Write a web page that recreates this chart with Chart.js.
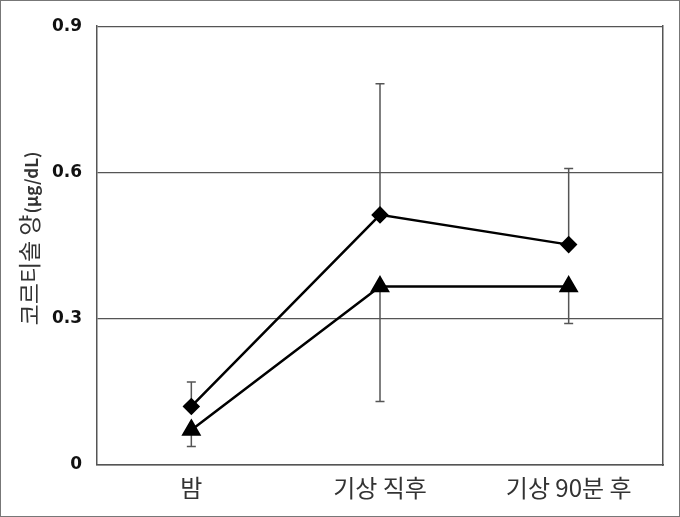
<!DOCTYPE html>
<html>
<head>
<meta charset="utf-8">
<script src="https://cdn.jsdelivr.net/npm/chart.js@4.4.1/dist/chart.umd.min.js"></script>
<style>
  html, body { margin: 0; padding: 0; background: #fff; }
  #wrap { position: relative; width: 678px; height: 515px; border: 1px solid #777; }
</style>
</head>
<body>
<div id="wrap"><canvas id="chart" width="678" height="515"></canvas></div>
<script>
const labels = ['밤', '기상 직후', '기상 90분 후'];
const diamondMeans = [0.12, 0.513, 0.452];
const diamondUpper = [0.17, 0.782, 0.608];
const triangleMeans = [0.072, 0.366, 0.366];
const triangleLower = [0.038, 0.13, 0.29];
const yTicks = [0, 0.3, 0.6, 0.9];

// one-sided error bars, drawn under the markers
const errorBars = {
    id: 'errorBars',
    beforeDatasetsDraw(chart) {
        const { ctx, scales: { x, y } } = chart;
        const sets = [
            { from: diamondMeans, to: diamondUpper },
            { from: triangleMeans, to: triangleLower },
        ];
        ctx.save();
        ctx.strokeStyle = '#555';
        ctx.lineWidth = 1.5;
        sets.forEach(s => {
            s.from.forEach((v, i) => {
                const px = x.getPixelForValue(i);
                const y0 = y.getPixelForValue(v);
                const y1 = y.getPixelForValue(s.to[i]);
                ctx.beginPath();
                ctx.moveTo(px, y0);
                ctx.lineTo(px, y1);
                ctx.moveTo(px - 4.5, y1);
                ctx.lineTo(px + 4.5, y1);
                ctx.stroke();
            });
        });
        ctx.restore();
    }
};

// y title with mixed fonts
const yTitle = {
    id: 'yTitle',
    afterDraw(chart) {
        const { ctx } = chart;
        const main = '코르티솔 양';
        const unit = '(μg/dL)';
        const mainFont = '23px "Noto Sans CJK KR"';
        const unitFont = 'bold 17px "Noto Sans CJK KR"';
        ctx.save();
        ctx.font = mainFont;
        const w1 = ctx.measureText(main).width;
        ctx.font = unitFont;
        const w2 = ctx.measureText(unit).width;
        ctx.translate(37, 238);
        ctx.rotate(-Math.PI / 2);
        ctx.fillStyle = '#333';
        ctx.textBaseline = 'alphabetic';
        ctx.textAlign = 'left';
        const start = -(w1 + w2) / 2;
        ctx.font = mainFont;
        ctx.fillText(main, start, 0);
        ctx.font = unitFont;
        ctx.fillText(unit, start + w1 + 1, 0);
        ctx.restore();
    }
};

new Chart(document.getElementById('chart'), {
    type: 'line',
    data: {
        labels: labels,
        datasets: [
            {
                data: diamondMeans,
                borderColor: '#000',
                backgroundColor: '#000',
                borderWidth: 2.5,
                pointStyle: 'rectRot',
                pointRadius: 7,
                pointHoverRadius: 7,
            },
            {
                data: triangleMeans,
                borderColor: '#000',
                backgroundColor: '#000',
                borderWidth: 2.5,
                pointStyle: 'triangle',
                pointRadius: 9,
                pointHoverRadius: 9,
            }
        ]
    },
    options: {
        responsive: false,
        animation: false,
        events: [],
        layout: { padding: { top: 25, right: 16, left: 0, bottom: 0 } },
        plugins: { legend: { display: false }, tooltip: { enabled: false } },
        scales: {
            x: {
                offset: true,
                grid: { display: false, drawTicks: false },
                border: { display: true, color: '#555', width: 1.5 },
                ticks: {
                    color: '#333',
                    font: { family: '"Noto Sans CJK KR"', size: 24 },
                    padding: 8,
                },
                afterFit: s => { s.height = 51; },
            },
            y: {
                min: 0,
                max: 0.9,
                afterBuildTicks: s => { s.ticks = yTicks.map(v => ({ value: v })); },
                grid: { color: '#555', lineWidth: 1.2, drawTicks: false },
                border: { display: true, color: '#555', width: 1.5 },
                ticks: {
                    color: '#111',
                    font: { family: '"DejaVu Sans"', size: 17, weight: 'bold' },
                    padding: 15,
                    callback: v => v === 0 ? '0' : v.toFixed(1),
                },
                afterFit: s => { s.width = 96; },
            },
            y2: {
                position: 'right',
                min: 0,
                max: 0.9,
                grid: { display: false },
                border: { display: true, color: '#555', width: 1.5 },
                ticks: { display: false },
                afterFit: s => { s.width = 0; },
            }
        }
    },
    plugins: [errorBars, yTitle]
});
</script>
</body>
</html>
